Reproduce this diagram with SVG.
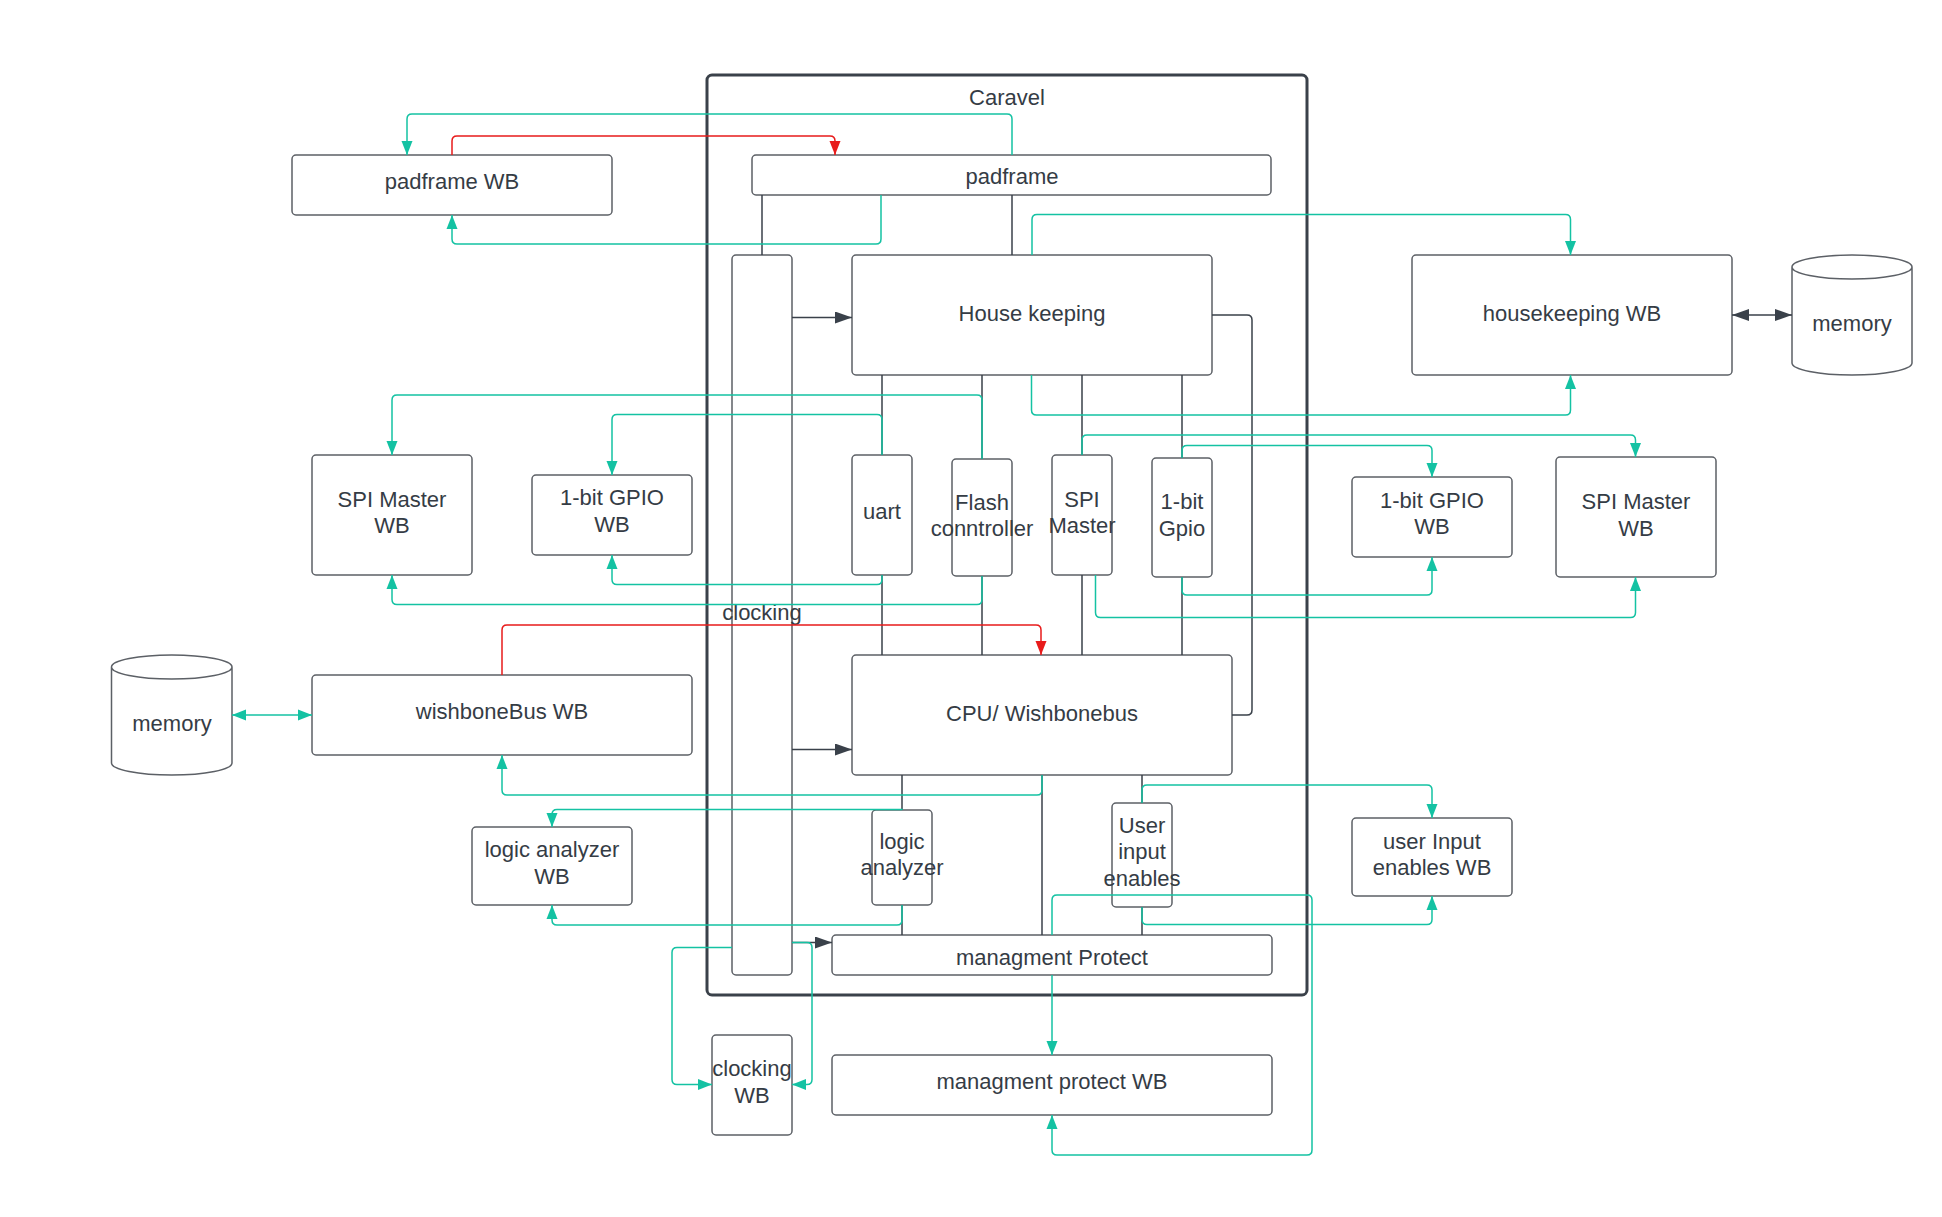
<svg xmlns="http://www.w3.org/2000/svg" width="1942" height="1217" viewBox="0 0 1942 1217">
<defs>
<style>
.box{fill:#ffffff;stroke:#5c6066;stroke-width:1.5}
.frame{fill:none;stroke:#3a414a;stroke-width:3}
.t{font-family:"Liberation Sans",Arial,sans-serif;font-size:22px;fill:#353c45;text-anchor:middle}
.tl{fill:none;stroke:#14c2a3;stroke-width:1.5}
.rd{fill:none;stroke:#e81b1b;stroke-width:1.5}
.dk{fill:none;stroke:#3a414a;stroke-width:1.5}
</style>
<marker id="aT" viewBox="0 0 14 12" refX="14" refY="6" markerWidth="14" markerHeight="12" markerUnits="userSpaceOnUse" orient="auto-start-reverse"><path d="M0,0.5 L14,6 L0,11.5 z" fill="#14c2a3"/></marker>
<marker id="aR" viewBox="0 0 14 12" refX="14" refY="6" markerWidth="14" markerHeight="12" markerUnits="userSpaceOnUse" orient="auto-start-reverse"><path d="M0,0.5 L14,6 L0,11.5 z" fill="#e81b1b"/></marker>
<marker id="aD" viewBox="0 0 17 12" refX="17" refY="6" markerWidth="17" markerHeight="12" markerUnits="userSpaceOnUse" orient="auto-start-reverse"><path d="M0,0 L17,6 L0,12 z" fill="#3a414a"/></marker>
</defs>
<rect width="1942" height="1217" fill="#ffffff"/>

<g id="caravel">
<rect class="frame" x="707" y="75" width="600" height="920" rx="5"/>
<text class="t" x="1007" y="105">Caravel</text>
</g>

<g id="padframe-wb"><rect class="box" x="292" y="155" width="320" height="60" rx="4"/><text class="t" x="452" y="189">padframe WB</text></g>
<g id="padframe"><rect class="box" x="752" y="155" width="519" height="40" rx="4"/><text class="t" x="1012" y="184">padframe</text></g>
<g id="clocking"><rect class="box" x="732" y="255" width="60" height="720" rx="4"/><text class="t" x="762" y="620">clocking</text></g>
<g id="housekeeping"><rect class="box" x="852" y="255" width="360" height="120" rx="4"/><text class="t" x="1032" y="321">House keeping</text></g>
<g id="housekeeping-wb"><rect class="box" x="1412" y="255" width="320" height="120" rx="4"/><text class="t" x="1572" y="321">housekeeping WB</text></g>
<g id="memory-right"><path class="box" d="M1792 267 A60 12 0 0 1 1912 267 V363 A60 12 0 0 1 1792 363 Z M1792 267 A60 12 0 0 0 1912 267"/><text class="t" x="1852" y="331">memory</text></g>
<g id="spi-master-wb-left"><rect class="box" x="312" y="455" width="160" height="120" rx="4"/><text class="t" x="392" y="506.5">SPI Master<tspan x="392" dy="26.5">WB</tspan></text></g>
<g id="gpio-wb-left"><rect class="box" x="532" y="475" width="160" height="80" rx="4"/><text class="t" x="612" y="505">1-bit GPIO<tspan x="612" dy="26.5">WB</tspan></text></g>
<g id="uart"><rect class="box" x="852" y="455" width="60" height="120" rx="4"/><text class="t" x="882" y="519">uart</text></g>
<g id="flash"><rect class="box" x="952" y="459" width="60" height="117" rx="4"/><text class="t" x="982" y="509.5">Flash<tspan x="982" dy="26.5">conntroller</tspan></text></g>
<g id="spi-master"><rect class="box" x="1052" y="455" width="60" height="120" rx="4"/><text class="t" x="1082" y="506.5">SPI<tspan x="1082" dy="26.5">Master</tspan></text></g>
<g id="gpio"><rect class="box" x="1152" y="458" width="60" height="119" rx="4"/><text class="t" x="1182" y="509">1-bit<tspan x="1182" dy="26.5">Gpio</tspan></text></g>
<g id="gpio-wb-right"><rect class="box" x="1352" y="477" width="160" height="80" rx="4"/><text class="t" x="1432" y="507.5">1-bit GPIO<tspan x="1432" dy="26.5">WB</tspan></text></g>
<g id="spi-master-wb-right"><rect class="box" x="1556" y="457" width="160" height="120" rx="4"/><text class="t" x="1636" y="509">SPI Master<tspan x="1636" dy="26.5">WB</tspan></text></g>
<g id="memory-left"><path class="box" d="M111.5 667 A60.25 12 0 0 1 232 667 V763 A60.25 12 0 0 1 111.5 763 Z M111.5 667 A60.25 12 0 0 0 232 667"/><text class="t" x="172" y="731">memory</text></g>
<g id="wishbonebus-wb"><rect class="box" x="312" y="675" width="380" height="80" rx="4"/><text class="t" x="502" y="719">wishboneBus WB</text></g>
<g id="cpu"><rect class="box" x="852" y="655" width="380" height="120" rx="4"/><text class="t" x="1042" y="721">CPU/ Wishbonebus</text></g>
<g id="logic-analyzer-wb"><rect class="box" x="472" y="827" width="160" height="78" rx="4"/><text class="t" x="552" y="857">logic analyzer<tspan x="552" dy="26.5">WB</tspan></text></g>
<g id="logic-analyzer"><rect class="box" x="872" y="810" width="60" height="95" rx="4"/><text class="t" x="902" y="848.5">logic<tspan x="902" dy="26.5">analyzer</tspan></text></g>
<g id="user-input"><rect class="box" x="1112" y="803" width="60" height="104" rx="4"/><text class="t" x="1142" y="832.5">User<tspan x="1142" dy="26.5">input</tspan><tspan x="1142" dy="26.5">enables</tspan></text></g>
<g id="user-input-wb"><rect class="box" x="1352" y="818" width="160" height="78" rx="4"/><text class="t" x="1432" y="848.5">user Input<tspan x="1432" dy="26.5">enables WB</tspan></text></g>
<g id="managment-protect"><rect class="box" x="832" y="935" width="440" height="40" rx="4"/><text class="t" x="1052" y="965">managment Protect</text></g>
<g id="clocking-wb"><rect class="box" x="712" y="1035" width="80" height="100" rx="4"/><text class="t" x="752" y="1076">clocking<tspan x="752" dy="26.5">WB</tspan></text></g>
<g id="managment-protect-wb"><rect class="box" x="832" y="1055" width="440" height="60" rx="4"/><text class="t" x="1052" y="1089">managment protect WB</text></g>

<g id="connectors">
<path class="dk" d="M762 195 V255"/>
<path class="dk" d="M1012 195 V255"/>
<path class="dk" d="M882 375 V455 M882 575 V655"/>
<path class="dk" d="M982 375 V459 M982 576 V655"/>
<path class="dk" d="M1082 375 V455 M1082 575 V655"/>
<path class="dk" d="M1182 375 V458 M1182 577 V655"/>
<path class="dk" d="M1212 315 H1247 Q1252 315 1252 320 V710 Q1252 715 1247 715 H1232"/>
<path class="dk" d="M902 775 V810 M902 905 V935"/>
<path class="dk" d="M1042 775 V935"/>
<path class="dk" d="M1142 775 V803 M1142 907 V935"/>
<path class="dk" d="M792 317.5 H852" marker-end="url(#aD)"/>
<path class="dk" d="M792 749.5 H852" marker-end="url(#aD)"/>
<path class="dk" d="M792 942.5 H832" marker-end="url(#aD)"/>
<path class="dk" d="M1732 315 H1792" marker-start="url(#aD)" marker-end="url(#aD)"/>
<path class="rd" d="M452 155 V141 Q452 136 457 136 H830 Q835 136 835 141 V155" marker-end="url(#aR)"/>
<path class="rd" d="M502 675 V630 Q502 625 507 625 H1036 Q1041 625 1041 630 V655" marker-end="url(#aR)"/>
<path class="tl" d="M1012 155 V119 Q1012 114 1007 114 H412 Q407 114 407 119 V155" marker-end="url(#aT)"/>
<path class="tl" d="M881 195 V239 Q881 244 876 244 H457 Q452 244 452 239 V215" marker-end="url(#aT)"/>
<path class="tl" d="M1032 255 V219.5 Q1032 214.5 1037 214.5 H1565.5 Q1570.5 214.5 1570.5 219.5 V255" marker-end="url(#aT)"/>
<path class="tl" d="M1031.5 375 V410 Q1031.5 415 1036.5 415 H1565.5 Q1570.5 415 1570.5 410 V375" marker-end="url(#aT)"/>
<path class="tl" d="M982 459 V400 Q982 395 977 395 H397 Q392 395 392 400 V455" marker-end="url(#aT)"/>
<path class="tl" d="M882 455 V419.5 Q882 414.5 877 414.5 H617 Q612 414.5 612 419.5 V475" marker-end="url(#aT)"/>
<path class="tl" d="M882 575 V579.5 Q882 584.5 877 584.5 H617 Q612 584.5 612 579.5 V555" marker-end="url(#aT)"/>
<path class="tl" d="M982 576 V599.5 Q982 604.5 977 604.5 H397 Q392 604.5 392 599.5 V575" marker-end="url(#aT)"/>
<path class="tl" d="M1082 455 V440 Q1082 435 1087 435 H1630.5 Q1635.5 435 1635.5 440 V457" marker-end="url(#aT)"/>
<path class="tl" d="M1182 458 V450.5 Q1182 445.5 1187 445.5 H1427 Q1432 445.5 1432 450.5 V477" marker-end="url(#aT)"/>
<path class="tl" d="M1182 577 V590 Q1182 595 1187 595 H1427 Q1432 595 1432 590 V557" marker-end="url(#aT)"/>
<path class="tl" d="M1095.5 575 V612.5 Q1095.5 617.5 1100.5 617.5 H1630.5 Q1635.5 617.5 1635.5 612.5 V577" marker-end="url(#aT)"/>
<path class="tl" d="M232 715 H312" marker-start="url(#aT)" marker-end="url(#aT)"/>
<path class="tl" d="M1042 775 V790 Q1042 795 1037 795 H507 Q502 795 502 790 V755" marker-end="url(#aT)"/>
<path class="tl" d="M902 810 V809.5 H557 Q552 809.5 552 814.5 V827" marker-end="url(#aT)"/>
<path class="tl" d="M902 905 V920 Q902 925 897 925 H557 Q552 925 552 920 V905" marker-end="url(#aT)"/>
<path class="tl" d="M1142 803 V790 Q1142 785 1147 785 H1427 Q1432 785 1432 790 V818" marker-end="url(#aT)"/>
<path class="tl" d="M1142 907 V919.5 Q1142 924.5 1147 924.5 H1427 Q1432 924.5 1432 919.5 V896" marker-end="url(#aT)"/>
<path class="tl" d="M1052 935 V900 Q1052 895 1057 895 H1307 Q1312 895 1312 900 V1150 Q1312 1155 1307 1155 H1057 Q1052 1155 1052 1150 V1115" marker-end="url(#aT)"/>
<path class="tl" d="M1052 975 V1055" marker-end="url(#aT)"/>
<path class="tl" d="M732 947.5 H677 Q672 947.5 672 952.5 V1079.5 Q672 1084.5 677 1084.5 H712" marker-end="url(#aT)"/>
<path class="tl" d="M792 942.5 H807 Q812 942.5 812 947.5 V1079.5 Q812 1084.5 807 1084.5 H792" marker-end="url(#aT)"/>
</g>
</svg>
